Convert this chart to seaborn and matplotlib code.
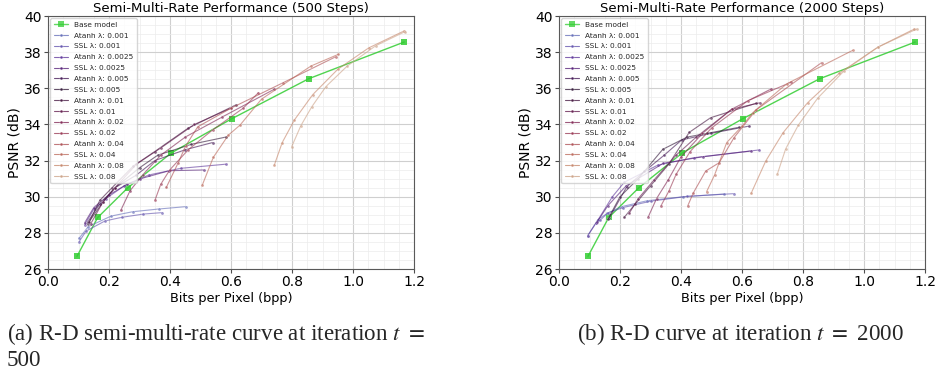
import numpy as np
import pandas as pd
import matplotlib
matplotlib.use("Agg")
import matplotlib.pyplot as plt
import seaborn as sns

# ---------------- data ----------------
lambdas = ["0.001", "0.0025", "0.005", "0.01", "0.02", "0.04", "0.08"]

base_bpp = [0.095, 0.163, 0.262, 0.404, 0.603, 0.855, 1.168]
base_psnr = [26.70, 28.85, 30.50, 32.42, 34.32, 36.53, 38.56]

# 500 steps
atanh500_bpp = [
    [0.102, 0.132, 0.207, 0.278, 0.363, 0.452],
    [0.120, 0.150, 0.190, 0.250, 0.330, 0.435, 0.583],
    [0.130, 0.170, 0.220, 0.290, 0.350, 0.450, 0.540],
    [0.135, 0.170, 0.210, 0.280, 0.350, 0.460, 0.616],
    [0.239, 0.269, 0.310, 0.370, 0.450, 0.570, 0.741],
    [0.388, 0.427, 0.451, 0.491, 0.600, 0.771, 0.944],
    [0.742, 0.768, 0.808, 0.868, 0.950, 1.051, 1.167],
]
atanh500_psnr = [
    [27.70, 28.34, 28.93, 29.17, 29.32, 29.45],
    [28.45, 29.30, 29.90, 30.60, 31.20, 31.57, 31.80],
    [28.60, 29.60, 30.50, 31.20, 32.00, 32.60, 33.00],
    [28.60, 29.80, 30.50, 31.70, 32.50, 33.80, 35.08],
    [29.26, 30.33, 31.20, 32.30, 33.30, 34.40, 35.94],
    [30.52, 31.88, 32.80, 33.87, 34.90, 36.31, 37.75],
    [31.75, 33.00, 34.25, 35.65, 37.05, 38.23, 39.17],
]
ssl500_bpp = [
    [0.102, 0.125, 0.187, 0.242, 0.313, 0.374],
    [0.120, 0.150, 0.200, 0.260, 0.300, 0.398, 0.510],
    [0.130, 0.180, 0.220, 0.300, 0.360, 0.470, 0.583],
    [0.140, 0.180, 0.220, 0.290, 0.370, 0.480, 0.600],
    [0.351, 0.370, 0.400, 0.460, 0.540, 0.640, 0.690],
    [0.506, 0.542, 0.591, 0.630, 0.700, 0.862, 0.952],
    [0.799, 0.829, 0.865, 0.911, 0.981, 1.075, 1.170],
]
ssl500_psnr = [
    [27.51, 28.10, 28.66, 28.86, 29.04, 29.12],
    [28.55, 29.40, 30.10, 30.70, 30.98, 31.44, 31.48],
    [28.50, 29.70, 30.50, 31.60, 32.30, 32.90, 33.30],
    [28.50, 29.70, 30.50, 31.80, 32.70, 34.00, 34.90],
    [29.82, 30.70, 31.50, 32.60, 33.70, 34.90, 35.76],
    [30.65, 32.18, 33.40, 33.97, 35.40, 37.23, 37.88],
    [32.77, 33.93, 34.98, 36.09, 37.23, 38.36, 39.13],
]

# 2000 steps
atanh2000_bpp = [
    [0.094, 0.127, 0.158, 0.205, 0.290, 0.408, 0.542],
    [0.094, 0.121, 0.175, 0.214, 0.324, 0.443, 0.657],
    [0.164, 0.222, 0.280, 0.345, 0.402, 0.497, 0.624],
    [0.214, 0.250, 0.300, 0.360, 0.427, 0.497, 0.646],
    [0.293, 0.320, 0.358, 0.400, 0.470, 0.566, 0.695],
    [0.422, 0.440, 0.481, 0.525, 0.574, 0.646, 0.861],
    [0.630, 0.678, 0.735, 0.815, 0.919, 1.045, 1.165],
]
atanh2000_psnr = [
    [27.84, 28.72, 29.08, 29.45, 29.78, 30.00, 30.15],
    [27.84, 28.53, 30.00, 30.80, 31.75, 32.16, 32.59],
    [28.80, 30.55, 31.40, 32.30, 33.14, 33.50, 33.91],
    [28.86, 29.60, 30.60, 31.80, 33.56, 34.37, 35.17],
    [28.90, 29.90, 30.93, 32.20, 33.50, 34.84, 35.96],
    [29.49, 30.20, 31.42, 31.88, 33.27, 34.80, 37.42],
    [30.19, 31.98, 33.55, 35.20, 36.83, 38.27, 39.28],
]
ssl2000_bpp = [
    [0.120, 0.135, 0.160, 0.210, 0.300, 0.420, 0.574],
    [0.125, 0.160, 0.220, 0.342, 0.471, 0.630],
    [0.160, 0.200, 0.260, 0.340, 0.420, 0.484, 0.590],
    [0.230, 0.260, 0.310, 0.384, 0.450, 0.566, 0.659],
    [0.334, 0.360, 0.384, 0.430, 0.500, 0.619, 0.760],
    [0.484, 0.510, 0.550, 0.600, 0.635, 0.746, 0.963],
    [0.716, 0.743, 0.785, 0.848, 0.935, 1.045, 1.173],
]
ssl2000_psnr = [
    [28.55, 28.70, 29.10, 29.40, 29.75, 30.02, 30.17],
    [28.60, 29.50, 30.60, 31.85, 32.21, 32.53],
    [28.75, 30.00, 31.00, 32.62, 33.30, 33.50, 33.84],
    [29.08, 29.90, 30.90, 32.30, 33.30, 34.84, 35.20],
    [29.49, 30.30, 31.24, 32.50, 33.80, 35.31, 36.33],
    [30.28, 31.20, 33.00, 33.90, 34.65, 36.24, 38.10],
    [31.26, 32.64, 33.97, 35.45, 36.97, 38.27, 39.28],
]

titles = ["Semi-Multi-Rate Performance (500 Steps)",
          "Semi-Multi-Rate Performance (2000 Steps)"]
x_ticks = [0.0, 0.2, 0.4, 0.6, 0.8, 1.0, 1.2]
y_ticks = [26, 28, 30, 32, 34, 36, 38, 40]

# ---------------- style ----------------
sns.set_theme(style="whitegrid")
plt.rcParams["font.family"] = ["DejaVu Sans"]
plt.rcParams["mathtext.fontset"] = "stix"

W, H = 935, 377
fig = plt.figure(figsize=(W / 100, H / 100), dpi=100)

ax_w, ax_h = 366, 253
ax_bottom = (H - 269) / H
axes = [
    fig.add_axes([48 / W, ax_bottom, ax_w / W, ax_h / H]),
    fig.add_axes([559 / W, ax_bottom, ax_w / W, ax_h / H]),
]

colors = plt.cm.twilight(np.linspace(0.27, 0.87, 14))

panels = [
    (atanh500_bpp, atanh500_psnr, ssl500_bpp, ssl500_psnr),
    (atanh2000_bpp, atanh2000_psnr, ssl2000_bpp, ssl2000_psnr),
]

for ax, title, (abpp, apsnr, sbpp, spsnr) in zip(axes, titles, panels):
    sns.lineplot(x=base_bpp, y=base_psnr, ax=ax, color="#32cd32", marker="s",
                 markersize=5, linewidth=1.0, alpha=0.85, markeredgewidth=0,
                 sort=False, label="Base model")
    for i, lam in enumerate(lambdas):
        sns.lineplot(x=abpp[i], y=apsnr[i], ax=ax, color=colors[2 * i],
                     marker="o", markersize=2.2, linewidth=0.8, alpha=0.6,
                     markeredgewidth=0.3, sort=False, label=f"Atanh λ: {lam}")
        sns.lineplot(x=sbpp[i], y=spsnr[i], ax=ax, color=colors[2 * i + 1],
                     marker="o", markersize=2.2, linewidth=0.8, alpha=0.6,
                     markeredgewidth=0.3, sort=False, label=f"SSL λ: {lam}")

    ax.set_xlim(0, 1.2)
    ax.set_ylim(26, 40)
    ax.set_xticks(x_ticks)
    ax.set_yticks(y_ticks)
    ax.set_xticks(np.arange(0, 1.2001, 0.05), minor=True)
    ax.set_yticks(np.arange(26, 40.001, 0.5), minor=True)
    ax.grid(which="major", color="#cfcfcf", linewidth=0.8)
    ax.grid(which="minor", color="#ececec", linewidth=0.5)
    ax.set_axisbelow(True)
    ax.tick_params(axis="both", which="major", labelsize=10, length=3,
                   width=0.8, color="0.3", pad=1.5, bottom=True, left=True,
                   labelcolor="black")
    ax.tick_params(axis="both", which="minor", length=0)
    for s in ax.spines.values():
        s.set_color("0.35")
        s.set_linewidth(0.8)
    ax.set_title(title, fontsize=9.5, pad=3, color="black")
    ax.set_xlabel("Bits per Pixel (bpp)", fontsize=9.3, labelpad=2, color="black")
    ax.set_ylabel("PSNR (dB)", fontsize=10, labelpad=2, color="black")
    leg = ax.legend(loc="upper left", fontsize=5.3, labelspacing=0.64,
                    handlelength=2.0, borderpad=0.45, framealpha=0.8,
                    edgecolor="#cccccc", fancybox=True,
                    bbox_to_anchor=(0.0, 1.0), borderaxespad=0.3)
    for lh in leg.get_lines():
        lh.set_alpha(0.75)

cap_font = {"family": "Liberation Serif", "size": 16.6}
fig.text(7 / W, 1 - 334 / H, r"(a) R-D semi-multi-rate curve at iteration $t$ $=$",
         ha="left", va="center", fontdict=cap_font)
fig.text(7 / W, 1 - 361 / H, "500", ha="left", va="center", fontdict=cap_font)
fig.text(740 / W, 1 - 334 / H, r"(b) R-D curve at iteration $t$ $=$ 2000",
         ha="center", va="center", fontdict=cap_font)

fig.savefig("out.png", dpi=100)
